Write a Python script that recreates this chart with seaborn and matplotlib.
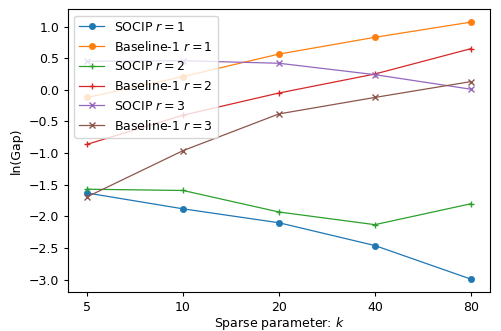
import matplotlib
matplotlib.use("Agg")
import matplotlib.pyplot as plt
import seaborn as sns
import numpy as np

k_labels = ["5", "10", "20", "40", "80"]
socip_r1 = [-1.63, -1.88, -2.10, -2.46, -2.99]
base_r1 = [-0.12, 0.21, 0.565, 0.83, 1.07]
socip_r2 = [-1.57, -1.59, -1.93, -2.13, -1.80]
base_r2 = [-0.86, -0.40, -0.05, 0.25, 0.65]
socip_r3 = [0.45, 0.46, 0.42, 0.24, 0.01]
base_r3 = [-1.69, -0.96, -0.38, -0.12, 0.13]

series = [
    ("SOCIP $r=1$", socip_r1, "o"),
    ("Baseline-1 $r=1$", base_r1, "o"),
    ("SOCIP $r=2$", socip_r2, "+"),
    ("Baseline-1 $r=2$", base_r2, "+"),
    ("SOCIP $r=3$", socip_r3, "x"),
    ("Baseline-1 $r=3$", base_r3, "x"),
]
colors = sns.color_palette("tab10", 6)

plt.rcParams["font.size"] = 9.0
plt.rcParams["xtick.major.size"] = 3.2
plt.rcParams["ytick.major.size"] = 3.2
plt.rcParams["xtick.major.pad"] = 3.2
plt.rcParams["ytick.major.pad"] = 3.2

fig, ax = plt.subplots(figsize=(5.01, 3.31), dpi=100)
fig.subplots_adjust(left=0.1357, right=0.978, top=0.972, bottom=0.118)
x = np.arange(len(k_labels))
for (label, vals, m), c in zip(series, colors):
    sns.lineplot(x=x, y=vals, ax=ax, label=label, marker=m, color=c,
                 linewidth=0.9, markersize=4.5 if m == "o" else 5,
                 markeredgecolor=c, markeredgewidth=1.0 if m != "o" else 0.5)
ax.set_xticks(x)
ax.set_xticklabels(k_labels)
ax.set_xlabel("Sparse parameter: $k$", labelpad=0.5)
ax.set_ylabel("ln(Gap)")
ax.legend(loc="upper left")
fig.savefig("out.png", dpi=100)
